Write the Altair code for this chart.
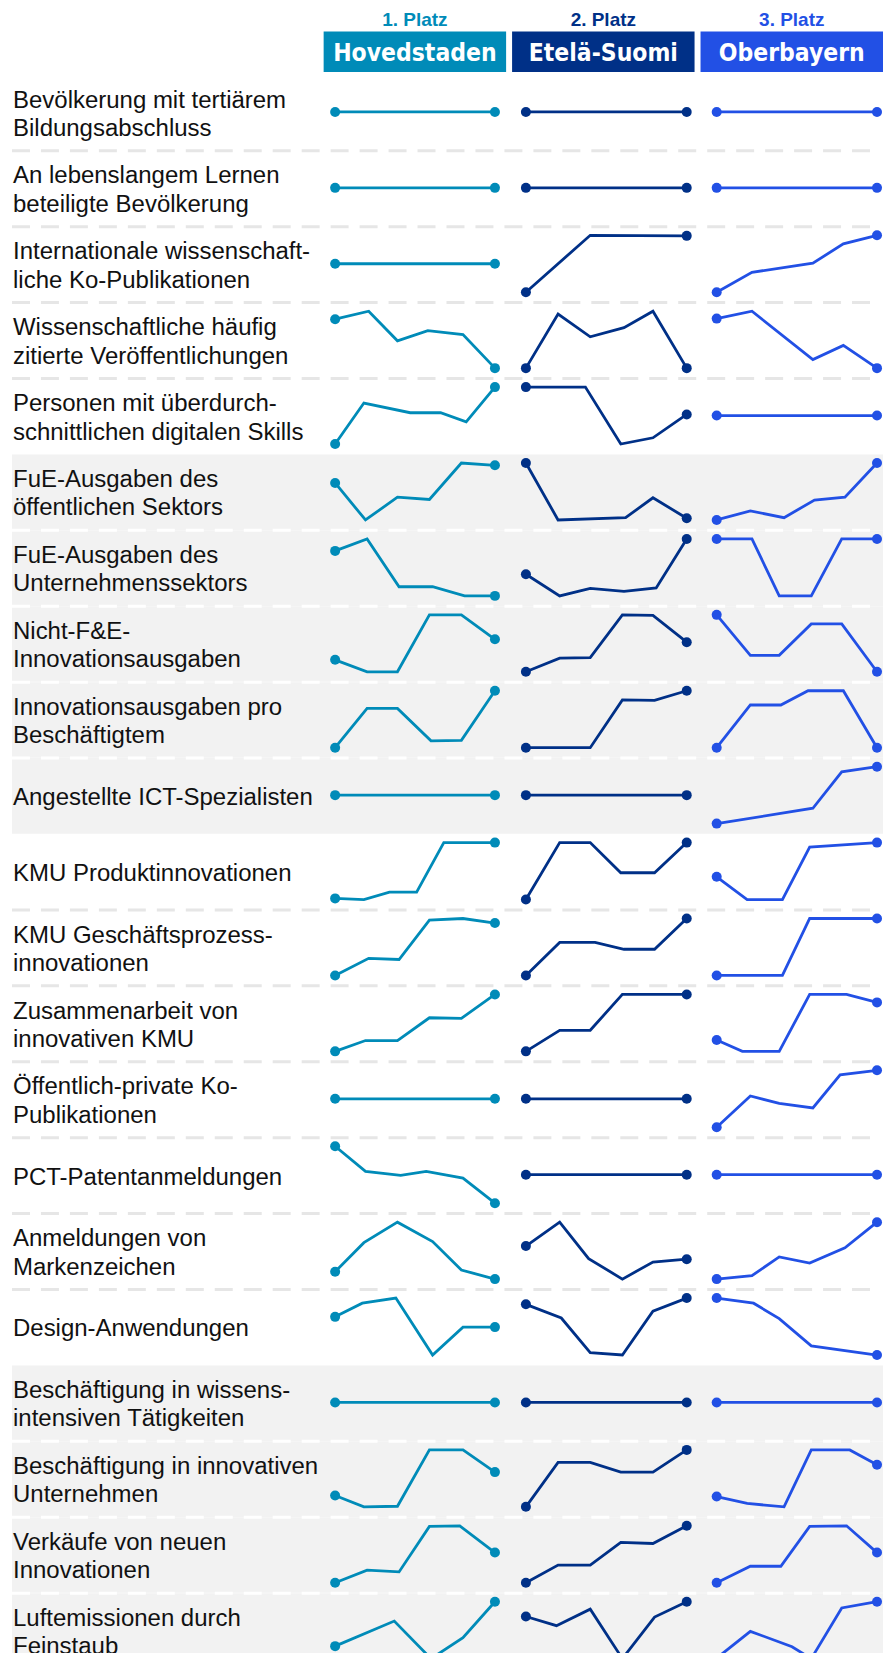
import altair as alt
import pandas as pd

REGIONS = ["Hovedstaden", "Etelä-Suomi", "Oberbayern"]
PLATZ = ["1. Platz", "2. Platz", "3. Platz"]
COLORS = ["#008bb8", "#003087", "#2250e5"]

INDICATORS = [
    "Bevölkerung mit tertiärem\nBildungsabschluss",
    "An lebenslangem Lernen\nbeteiligte Bevölkerung",
    "Internationale wissenschaft-\nliche Ko-Publikationen",
    "Wissenschaftliche häufig\nzitierte Veröffentlichungen",
    "Personen mit überdurch-\nschnittlichen digitalen Skills",
    "FuE-Ausgaben des\nöffentlichen Sektors",
    "FuE-Ausgaben des\nUnternehmenssektors",
    "Nicht-F&E-\nInnovationsausgaben",
    "Innovationsausgaben pro\nBeschäftigtem",
    "Angestellte ICT-Spezialisten",
    "KMU Produktinnovationen",
    "KMU Geschäftsprozess-\ninnovationen",
    "Zusammenarbeit von\ninnovativen KMU",
    "Öffentlich-private Ko-\nPublikationen",
    "PCT-Patentanmeldungen",
    "Anmeldungen von\nMarkenzeichen",
    "Design-Anwendungen",
    "Beschäftigung in wissens-\nintensiven Tätigkeiten",
    "Beschäftigung in innovativen\nUnternehmen",
    "Verkäufe von neuen\nInnovationen",
    "Luftemissionen durch\nFeinstaub",
]
SHADED = [False] * 5 + [True] * 5 + [False] * 7 + [True] * 4

# Hovedstaden: period positions (0-100) and relative scores
HOV_T = [
    [0, 100], [0, 100], [0, 100],
    [0, 21, 39, 58, 80, 100],
    [0, 18, 47, 66, 82, 100],
    [0, 19, 39, 59, 79, 100],
    [0, 20, 40, 61, 81, 100],
    [0, 20, 39, 59, 79, 100],
    [0, 20, 39, 60, 79, 100],
    [0, 100],
    [0, 18, 34, 51, 68, 100],
    [0, 21, 40, 59, 80, 100],
    [0, 19, 39, 59, 79, 100],
    [0, 100],
    [0, 19, 41, 57, 80, 100],
    [0, 18, 39, 61, 79, 100],
    [0, 17, 38, 61, 80, 100],
    [0, 100],
    [0, 18, 39, 59, 80, 100],
    [0, 20, 40, 59, 78, 100],
    [0, 37, 60, 80, 100],
]
HOV_V = [
    [1, 1], [1, 1], [1, 1],
    [86, 100, 48, 66, 59, 0],
    [0, 72, 55, 55, 39, 100],
    [65, 0, 40, 36, 100, 96],
    [79, 100, 16, 16, 0, 0],
    [21, 0, 0, 100, 100, 57],
    [0, 69, 69, 12, 13, 100],
    [1, 1],
    [2, 0, 13, 13, 100, 100],
    [0, 30, 28, 97, 100, 92],
    [0, 19, 19, 59, 58, 100],
    [1, 1],
    [100, 56, 49, 56, 44, 0],
    [13, 64, 100, 66, 16, 0],
    [67, 91, 100, 0, 49, 49],
    [1, 1],
    [20, 0, 1, 100, 100, 61],
    [0, 22, 19, 99, 100, 53],
    [22, 66, 0, 37, 100],
]

# Etelä-Suomi
ETE_T = [
    [0, 100], [0, 100],
    [0, 40, 100],
    [0, 20, 40, 61, 79, 100],
    [0, 37, 59, 79, 100],
    [0, 20, 62, 79, 100],
    [0, 21, 40, 61, 81, 100],
    [0, 21, 40, 60, 79, 100],
    [0, 40, 60, 80, 100],
    [0, 100],
    [0, 21, 40, 59, 80, 100],
    [0, 21, 43, 61, 80, 100],
    [0, 21, 40, 60, 100],
    [0, 100],
    [0, 100],
    [0, 21, 39, 60, 79, 100],
    [0, 22, 40, 60, 79, 100],
    [0, 100],
    [0, 20, 40, 59, 79, 100],
    [0, 20, 40, 59, 79, 100],
    [0, 19, 40, 60, 80, 100],
]
ETE_V = [
    [1, 1], [1, 1],
    [0, 100, 99],
    [0, 95, 55, 71, 100, 0],
    [100, 100, 0, 11, 52],
    [100, 0, 4, 39, 3],
    [38, 0, 13, 8, 14, 100],
    [0, 24, 25, 100, 99, 52],
    [0, 0, 84, 83, 100],
    [1, 1],
    [0, 100, 100, 47, 47, 100],
    [0, 58, 58, 46, 46, 100],
    [0, 37, 37, 100, 100],
    [1, 1],
    [1, 1],
    [58, 100, 36, 0, 30, 35],
    [89, 65, 4, 0, 77, 100],
    [1, 1],
    [0, 78, 78, 61, 61, 100],
    [0, 31, 31, 71, 69, 100],
    [74, 58, 87, 0, 73, 100],
]

# Oberbayern
OBB_T = [
    [0, 100], [0, 100],
    [0, 22, 60, 79, 100],
    [0, 22, 60, 79, 100],
    [0, 100],
    [0, 21, 42, 61, 80, 100],
    [0, 22, 39, 59, 78, 100],
    [0, 21, 39, 59, 78, 100],
    [0, 21, 40, 57, 79, 100],
    [0, 60, 78, 100],
    [0, 19, 41, 58, 100],
    [0, 41, 58, 100],
    [0, 16, 39, 58, 81, 100],
    [0, 21, 39, 60, 77, 100],
    [0, 100],
    [0, 22, 39, 58, 80, 100],
    [0, 23, 39, 59, 100],
    [0, 100],
    [0, 19, 42, 59, 83, 100],
    [0, 21, 40, 58, 81, 100],
    [0, 21, 47, 59, 78, 100],
]
OBB_V = [
    [1, 1], [1, 1],
    [0, 35, 51, 85, 100],
    [87, 100, 15, 40, 0],
    [1, 1],
    [0, 16, 4, 35, 40, 100],
    [100, 100, 0, 0, 100, 100],
    [100, 29, 29, 84, 84, 0],
    [0, 75, 75, 100, 100, 0],
    [0, 27, 91, 100],
    [40, 0, 0, 92, 100],
    [0, 0, 100, 100],
    [20, 0, 0, 100, 100, 86],
    [0, 55, 42, 34, 92, 100],
    [1, 1],
    [0, 6, 39, 28, 55, 100],
    [100, 91, 64, 16, 0],
    [1, 1],
    [18, 6, 0, 100, 100, 74],
    [0, 29, 29, 99, 100, 53],
    [1, 48, 21, 0, 89, 100],
]

SERIES = [(HOV_T, HOV_V), (ETE_T, ETE_V), (OBB_T, OBB_V)]

# layout (total width kept inside the 875px page body)
W = 872
ROW_H = 75.65
HEAD_H = 65.65
X_RANGES = [[323.5, 483.5], [514.5, 675.5], [705.5, 866]]
Y_RANGE = [65.6, 8.6]
LABEL_FONT = "Liberation Sans, Arial, Helvetica, sans-serif"
NAME_FONT = "DejaVu Sans Condensed, Liberation Sans Narrow, Arial Narrow, sans-serif"
LINE_H = 28.3


def spark(ts, vs, color, xr):
    n = len(ts)
    df = pd.DataFrame({"t": ts, "v": vs, "e": [1 if k in (0, n - 1) else 0 for k in range(n)]})
    base = alt.Chart(df)
    x = alt.X("t:Q", scale=alt.Scale(domain=[0, 100], range=xr), axis=None)
    y = alt.Y("v:Q", scale=alt.Scale(zero=False, nice=False, range=Y_RANGE), axis=None)
    line = base.mark_line(color=color, strokeWidth=2.8).encode(x=x, y=y)
    pts = base.transform_filter("datum.e == 1").mark_circle(color=color, size=100, opacity=1).encode(x=x, y=y)
    return alt.layer(line, pts)


def row_chart(i):
    label = INDICATORS[i]
    n_lines = label.count("\n") + 1
    ldf = pd.DataFrame({"label": [label]})
    layers = []
    if i > 0 and SHADED[i] == SHADED[i - 1]:
        dash_color = "#ffffff" if SHADED[i] else "#e6e6e6"
        layers.append(
            alt.Chart(ldf).mark_rule(strokeDash=[18, 11], strokeWidth=3, color=dash_color).encode(
                x=alt.value(0), x2=alt.value(W - 2), y=alt.value(0)
            )
        )
    layers.append(
        alt.Chart(ldf).mark_text(
            align="left", baseline="alphabetic", font=LABEL_FONT, fontSize=24,
            lineHeight=LINE_H, lineBreak="\n", color="#111111"
        ).encode(x=alt.value(1), y=alt.value(46.9 - (n_lines - 1) * LINE_H / 2), text="label:N")
    )
    for j, (T, V) in enumerate(SERIES):
        layers.append(spark(T[i], V[i], COLORS[j], X_RANGES[j]))
    fill = "#f2f2f2" if SHADED[i] else "#ffffff"
    return alt.layer(*layers).resolve_scale(x="independent", y="independent").properties(
        width=W, height=ROW_H, view=alt.ViewBackground(fill=fill, strokeWidth=0)
    )


hdf = pd.DataFrame({"region": REGIONS, "platz": PLATZ})
xb = alt.X("region:N", sort=REGIONS, axis=None,
           scale=alt.Scale(type="band", range=[312, 872], paddingInner=0.0317, paddingOuter=0))
col = alt.Color("region:N", sort=REGIONS, legend=None, scale=alt.Scale(domain=REGIONS, range=COLORS))
hbase = alt.Chart(hdf)
header = alt.layer(
    hbase.mark_rect().encode(x=xb, y=alt.value(22.7), y2=alt.value(63), color=col),
    hbase.mark_text(font=LABEL_FONT, fontWeight="bold", fontSize=19, baseline="alphabetic").encode(
        x=xb, y=alt.value(17.5), text="platz:N", color=col),
    hbase.mark_text(font=NAME_FONT, fontWeight="bold", fontSize=24.5, baseline="alphabetic", color="#ffffff").encode(
        x=xb, y=alt.value(52.2), text="region:N"),
).properties(width=W, height=HEAD_H)

chart = alt.vconcat(header, *[row_chart(i) for i in range(len(INDICATORS))], spacing=0, bounds="flush").properties(
    padding={"left": 2, "top": 0, "right": 0, "bottom": 0}, background="#ffffff"
).configure_view(strokeWidth=0)

chart.save("out.html", embed_options={"renderer": "svg", "actions": False})
